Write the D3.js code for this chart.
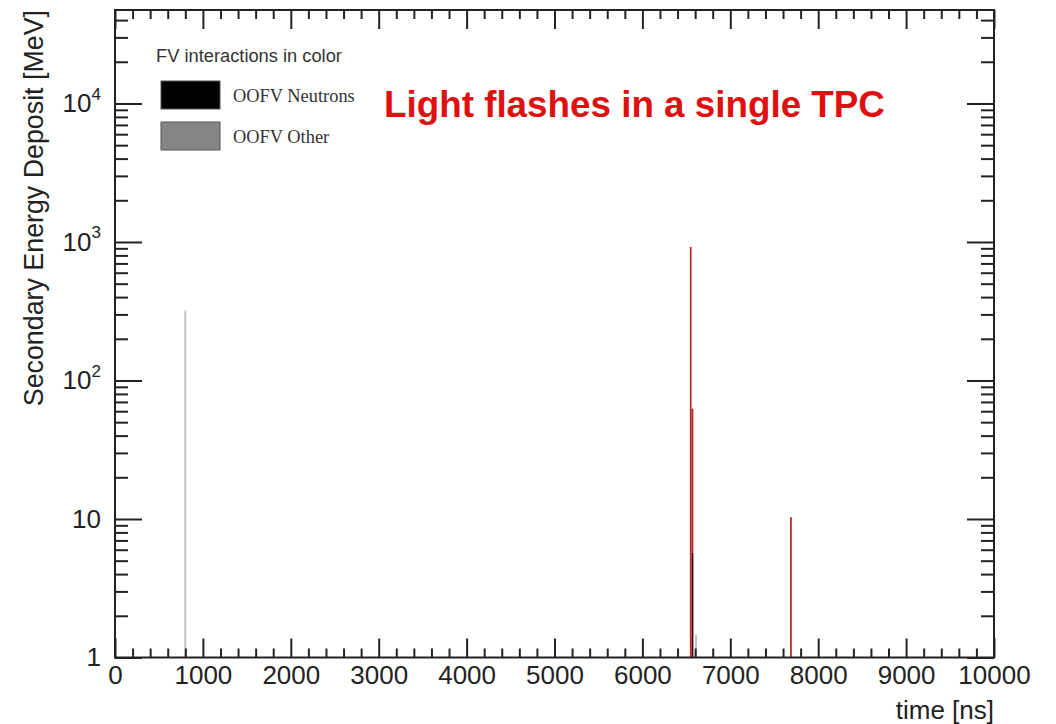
<!DOCTYPE html>
<html>
<head>
  <meta charset='utf-8'>
  <title>Light flashes in a single TPC</title>
  <script src="https://cdnjs.cloudflare.com/ajax/libs/d3/7.8.5/d3.min.js"></script>
  <style>
    body { margin: 0; background: #fff; }
    text { font-family: "Liberation Sans", Arial, Helvetica, sans-serif; fill: #222; }
  </style>
</head>
<body>
  <svg width="1056" height="724" id="chart"></svg>
  <script>
    // histogram bins (start time in ns, 20 ns wide) and stacked deposits [MeV]
    const binWidth = 20;
    const binStart = [790, 6540, 6560, 6600, 7680];
    const neutrons = [0, 0, 5.7, 0, 0];
    const fvColor = [0, 920, 57, 0, 10.3];
    const oofvOther = [320, 0, 0, 1.45, 0];

    const xMajor = [0, 1000, 2000, 3000, 4000, 5000, 6000, 7000, 8000, 9000, 10000];
    const yMajor = [1, 10, 100, 1000, 10000];
    const yLabels = [["1", ""], ["10", ""], ["10", "2"], ["10", "3"], ["10", "4"]];

    const legendTitle = "FV interactions in color";
    const legendNames = ["OOFV Neutrons", "OOFV Other"];
    const legendColors = ["#000", "#858585"];

    const svg = d3.select('#chart');
    const mLeft = 115, mRight = 994, mTop = 10, mBottom = 657.5;

    const x = d3.scaleLinear().domain([0, 10000]).range([mLeft, mRight]);
    const y = d3.scaleLog().domain([1, 47300]).range([mBottom, mTop]);

    // stack the layers: neutrons at the bottom, then FV (red), then other
    const rows = binStart.map((t, i) => ({ t, neutrons: neutrons[i], fv: fvColor[i], other: oofvOther[i] }));
    const keys = ['neutrons', 'fv', 'other'];
    const colors = { neutrons: '#2a0808', fv: '#b82828', other: '#bcbcbc' };
    const stack = d3.stack().keys(keys)(rows);

    stack.forEach(layer => {
      svg.append('g').selectAll('rect')
        .data(layer.filter(d => d[1] > d[0]))
        .join('rect')
        .attr('x', d => x(d.data.t))
        .attr('width', d => x(d.data.t + binWidth) - x(d.data.t))
        .attr('y', d => y(Math.max(1, d[1])))
        .attr('height', d => y(Math.max(1, d[0])) - y(Math.max(1, d[1])))
        .attr('fill', colors[layer.key]);
    });

    // minor ticks
    const xMinor = d3.range(200, 10000, 200).filter(v => v % 1000 !== 0);
    const yMinor = [];
    for (let e = 0; e < 5; e++) for (let m = 2; m <= 9; m++) {
      const v = m * Math.pow(10, e);
      if (v < 47300) yMinor.push(v);
    }

    const tickStyle = g => {
      g.select('.domain').remove();
      g.selectAll('line').attr('stroke', '#222').attr('stroke-width', 2);
    };

    svg.append('g').attr('transform', `translate(0,${mBottom})`)
      .call(d3.axisBottom(x).tickValues(xMinor).tickSize(-9).tickFormat(''))
      .call(tickStyle);
    const xAxis = svg.append('g').attr('transform', `translate(0,${mBottom})`)
      .call(d3.axisBottom(x).tickValues(xMajor).tickSize(-19).tickPadding(6).tickFormat(d3.format('d')))
      .call(tickStyle);
    xAxis.selectAll('text').attr('font-size', 26).attr('dy', '0.95em').attr('y', 2);

    svg.append('g').attr('transform', `translate(0,${mTop})`)
      .call(d3.axisTop(x).tickValues(xMinor).tickSize(-9).tickFormat(''))
      .call(tickStyle);
    svg.append('g').attr('transform', `translate(0,${mTop})`)
      .call(d3.axisTop(x).tickValues(xMajor).tickSize(-19).tickFormat(''))
      .call(tickStyle);

    svg.append('g').attr('transform', `translate(${mLeft},0)`)
      .call(d3.axisLeft(y).tickValues(yMinor).tickSize(-13).tickFormat(''))
      .call(tickStyle);
    const yAxis = svg.append('g').attr('transform', `translate(${mLeft},0)`)
      .call(d3.axisLeft(y).tickValues(yMajor).tickSize(-27).tickPadding(14).tickFormat(''))
      .call(tickStyle);
    yAxis.selectAll('.tick text')
      .attr('font-size', 26)
      .each(function (d, i) {
        const t = d3.select(this);
        t.append('tspan').text(yLabels[i][0]);
        if (yLabels[i][1]) t.append('tspan').attr('font-size', 17).attr('dy', '-0.75em').text(yLabels[i][1]);
      });

    svg.append('g').attr('transform', `translate(${mRight},0)`)
      .call(d3.axisRight(y).tickValues(yMinor).tickSize(-13).tickFormat(''))
      .call(tickStyle);
    svg.append('g').attr('transform', `translate(${mRight},0)`)
      .call(d3.axisRight(y).tickValues(yMajor).tickSize(-27).tickFormat(''))
      .call(tickStyle);

    // frame
    svg.append('rect')
      .attr('x', mLeft).attr('y', mTop)
      .attr('width', mRight - mLeft).attr('height', mBottom - mTop)
      .attr('fill', 'none').attr('stroke', '#222').attr('stroke-width', 2);

    // axis titles
    svg.append('text')
      .attr('transform', `translate(43,${mTop}) rotate(-90)`)
      .attr('text-anchor', 'end')
      .attr('font-size', 26.8)
      .text('Secondary Energy Deposit [MeV]');
    svg.append('text')
      .attr('x', mRight).attr('y', 719)
      .attr('text-anchor', 'end')
      .attr('font-size', 26)
      .text('time [ns]');

    // legend
    svg.append('text')
      .attr('x', 156).attr('y', 62)
      .attr('font-size', 18.3).style('fill', '#333')
      .text(legendTitle);
    const leg = svg.append('g').selectAll('g')
      .data(legendNames)
      .join('g')
      .attr('transform', (d, i) => `translate(161,${81 + i * 41})`);
    leg.append('rect')
      .attr('width', 59).attr('height', 28)
      .attr('fill', (d, i) => legendColors[i])
      .attr('stroke', '#555').attr('stroke-width', 1);
    leg.append('text')
      .attr('x', 72).attr('y', 21)
      .attr('font-size', 18.4)
      .style('font-family', '"Liberation Serif", "Times New Roman", serif')
      .style('fill', '#333')
      .text(d => d);

    // red annotation
    svg.append('text')
      .attr('x', 384).attr('y', 117)
      .attr('font-size', 36.8)
      .attr('font-weight', 'bold')
      .style('fill', '#e01010')
      .text('Light flashes in a single TPC');
  </script>
</body>
</html>
